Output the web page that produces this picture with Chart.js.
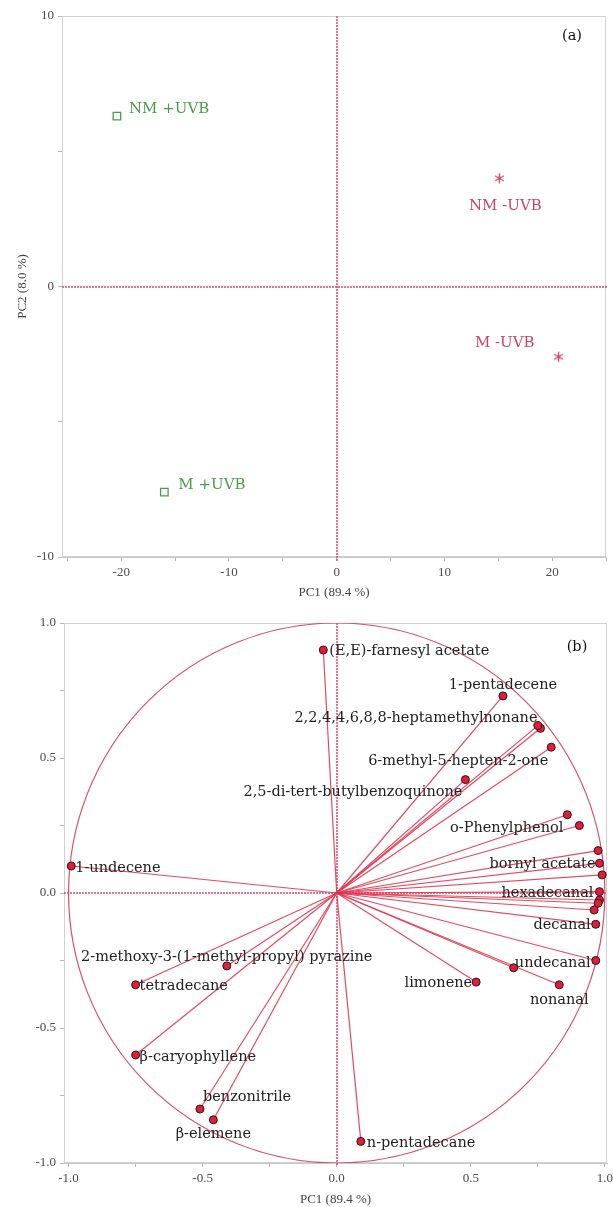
<!DOCTYPE html>
<html><head><meta charset="utf-8">
<script src="https://cdn.jsdelivr.net/npm/chart.js@4"></script>
<style>
html,body{margin:0;padding:0;background:#fff;}
#wrapA{position:absolute;left:0;top:0;width:613px;height:600px;}
#wrapB{position:absolute;left:0;top:600px;width:613px;height:607px;}
canvas{display:block;}
</style></head><body>
<div id="wrapA"><canvas id="cA" width="613" height="600"></canvas></div>
<div id="wrapB"><canvas id="cB" width="613" height="607"></canvas></div>
<script>
// ---------- DATA ----------
const scoreSamples = ['NM +UVB', 'NM -UVB', 'M -UVB', 'M +UVB'];
const scorePC1 = [-20.4, 15.1, 20.6, -16.0];
const scorePC2 = [6.3, 4.0, -2.6, -7.6];
const scoreGroup = ['+UVB', '-UVB', '-UVB', '+UVB'];
const scoreXTicks = [-25, -20, -15, -10, -5, 0, 5, 10, 15, 20, 25];
const scoreYTicks = [-10, -5, 0, 5, 10];

const loadingNames = [
  '(E,E)-farnesyl acetate', '1-pentadecene', '2,2,4,4,6,8,8-heptamethylnonane', '',
  '6-methyl-5-hepten-2-one', '2,5-di-tert-butylbenzoquinone', '', 'o-Phenylphenol',
  '', 'bornyl acetate', '', 'hexadecanal', '', '', '', 'decanal', 'undecanal', '',
  'limonene', 'nonanal', 'n-pentadecane', 'β-elemene', 'benzonitrile',
  'β-caryophyllene', 'tetradecane', '2-methoxy-3-(1-methyl-propyl) pyrazine', '1-undecene'
];
const loadingPC1 = [
  -0.05, 0.62, 0.76, 0.75,
  0.80, 0.48, 0.86, 0.905,
  0.975, 0.98, 0.99, 0.98, 0.98, 0.975, 0.96, 0.966, 0.966, 0.66,
  0.52, 0.83, 0.09, -0.46, -0.51,
  -0.75, -0.75, -0.41, -0.99
];
const loadingPC2 = [
  0.90, 0.73, 0.61, 0.62,
  0.54, 0.42, 0.29, 0.25,
  0.157, 0.11, 0.067, 0.005, -0.026, -0.038, -0.063, -0.116, -0.25, -0.277,
  -0.33, -0.34, -0.92, -0.84, -0.80,
  -0.60, -0.34, -0.27, 0.10
];
const loadingTicks = [-1, -0.75, -0.5, -0.25, 0, 0.25, 0.5, 0.75, 1];
const titlePC1 = 'PC1 (89.4 %)';
const titlePC2 = 'PC2 (8.0 %)';

// ---------- STYLE / LAYOUT ----------
const GREEN = '#4a9d4a';
const CRIMSON = '#c24866';
const VEC = 'rgba(222,55,80,0.9)';
const ZERO = 'rgba(226,70,110,0.75)';
const TICKFONT = {family: 'Liberation Serif', size: 13};
const TICKCOLOR = '#4a4a4a';

const scoreLabelPos = {
  'NM +UVB': {dx: 12, dy: -7, align: 'left'},
  'NM -UVB': {dx: 6, dy: 28, align: 'center'},
  'M -UVB': {dx: -24, dy: -14, align: 'right'},
  'M +UVB': {dx: 14, dy: -7, align: 'left'}
};
const loadingLabelPos = {
  '(E,E)-farnesyl acetate': {dx: 6, dy: 1, align: 'left'},
  '1-pentadecene': {dx: 0, dy: -11, align: 'center'},
  '2,2,4,4,6,8,8-heptamethylnonane': {dx: -3, dy: -10, align: 'right'},
  '6-methyl-5-hepten-2-one': {dx: -3, dy: 14, align: 'right'},
  '2,5-di-tert-butylbenzoquinone': {dx: -3, dy: 13, align: 'right'},
  'o-Phenylphenol': {dx: -16, dy: 3, align: 'right'},
  'bornyl acetate': {dx: -4, dy: 1, align: 'right'},
  'hexadecanal': {dx: -6, dy: 2, align: 'right'},
  'decanal': {dx: -5, dy: 1, align: 'right'},
  'undecanal': {dx: -5, dy: 3, align: 'right'},
  'limonene': {dx: -4, dy: 1, align: 'right'},
  'nonanal': {dx: 0, dy: 15, align: 'center'},
  'n-pentadecane': {dx: 6, dy: 2, align: 'left'},
  'β-elemene': {dx: 0, dy: 14, align: 'center'},
  'benzonitrile': {dx: 3, dy: -12, align: 'left'},
  'β-caryophyllene': {dx: 4, dy: 2, align: 'left'},
  'tetradecane': {dx: 4, dy: 1, align: 'left'},
  '2-methoxy-3-(1-methyl-propyl) pyrazine': {dx: 0, dy: -9, align: 'center'},
  '1-undecene': {dx: 4, dy: 2, align: 'left'}
};

function makeAsterisk(color) {
  const c = document.createElement('canvas');
  c.width = 13; c.height = 13;
  const g = c.getContext('2d');
  g.strokeStyle = color; g.lineWidth = 1.4; g.translate(6.5, 6.5);
  for (let i = 0; i < 3; i++) {
    const a = Math.PI / 2 + i * Math.PI / 3;
    g.beginPath();
    g.moveTo(Math.cos(a) * 5, Math.sin(a) * 5);
    g.lineTo(-Math.cos(a) * 5, -Math.sin(a) * 5);
    g.stroke();
  }
  return c;
}

function frameAndZero(chart) {
  const {ctx, chartArea: a, scales: {x, y}} = chart;
  ctx.save();
  ctx.setLineDash([]);
  ctx.strokeStyle = '#d0d0d0'; ctx.lineWidth = 1;
  ctx.strokeRect(a.left + 0.5, a.top + 0.5, a.right - a.left - 1, a.bottom - a.top - 1);
  const x0 = Math.round(x.getPixelForValue(0)), y0 = Math.round(y.getPixelForValue(0));
  ctx.fillStyle = ZERO;
  for (let py = a.top; py < a.bottom + 3; py += 3) ctx.fillRect(x0 - 1, py, 2, 2);
  for (let px = a.left; px < a.right; px += 3) ctx.fillRect(px, y0 - 1, 2, 2);
  ctx.restore();
}

function tag(chart, text, px, py) {
  const ctx = chart.ctx;
  ctx.save();
  ctx.font = '14.5px "DejaVu Serif"'; ctx.fillStyle = '#111';
  ctx.textAlign = 'center'; ctx.textBaseline = 'middle';
  ctx.fillText(text, px, py);
  ctx.restore();
}

function axisCfg(min, max, ticksArr, labelFn, fitFn, title, titlePad) {
  return {
    type: 'linear', min: min, max: max,
    afterBuildTicks: s => { s.ticks = ticksArr.map(v => ({value: v})); },
    ticks: {callback: labelFn, font: TICKFONT, color: TICKCOLOR, padding: 4, autoSkip: false, maxRotation: 0, minRotation: 0},
    grid: {drawOnChartArea: false, drawTicks: true, tickLength: 4, tickColor: '#b5b5b5'},
    border: {display: true, color: '#c8c8c8'},
    title: title ? {display: true, text: title, font: TICKFONT, color: '#444', padding: titlePad} : {display: false},
    afterFit: fitFn
  };
}

// ---------- CHART A : scores ----------
const plusIdx = scoreGroup.map((g, i) => g === '+UVB' ? i : -1).filter(i => i >= 0);
const minusIdx = scoreGroup.map((g, i) => g === '-UVB' ? i : -1).filter(i => i >= 0);

const pluginA = {
  id: 'scoreDecor',
  beforeDatasetsDraw(chart) { frameAndZero(chart); },
  afterDatasetsDraw(chart) {
    const {ctx, scales: {x, y}} = chart;
    ctx.save();
    ctx.font = '15px "DejaVu Serif"'; ctx.textBaseline = 'middle';
    scoreSamples.forEach((n, i) => {
      const p = scoreLabelPos[n];
      ctx.fillStyle = scoreGroup[i] === '+UVB' ? GREEN : CRIMSON;
      ctx.textAlign = p.align;
      ctx.fillText(n, x.getPixelForValue(scorePC1[i]) + p.dx, y.getPixelForValue(scorePC2[i]) + p.dy);
    });
    ctx.restore();
    tag(chart, '(a)', 572, 36);
  }
};

new Chart(document.getElementById('cA'), {
  type: 'scatter',
  data: {
    datasets: [
      {label: '+UVB', data: plusIdx.map(i => ({x: scorePC1[i], y: scorePC2[i]})),
       pointStyle: 'rect', pointRadius: 5.3, borderColor: GREEN, backgroundColor: 'rgba(255,255,255,0)', borderWidth: 1.3},
      {label: '-UVB', data: minusIdx.map(i => ({x: scorePC1[i], y: scorePC2[i]})),
       pointStyle: makeAsterisk(CRIMSON), pointRadius: 5, borderColor: CRIMSON, backgroundColor: CRIMSON}
    ]
  },
  options: {
    responsive: false, animation: false, devicePixelRatio: 1,
    layout: {padding: {top: 16, right: 7, left: 0, bottom: 0}},
    plugins: {legend: {display: false}, tooltip: {enabled: false}},
    scales: {
      x: axisCfg(-25.5, 25, scoreXTicks, v => (v % 10 === 0 ? String(v) : ''),
        s => { s.height = 43; s.paddingLeft = 0; s.paddingRight = 0; }, titlePC1, {top: 0, bottom: 0}),
      y: axisCfg(-10, 10, scoreYTicks, v => (v % 10 === 0 ? String(v) : ''),
        s => { s.width = 62; s.paddingTop = 0; s.paddingBottom = 0; }, titlePC2, {top: 15, bottom: 0})
    }
  },
  plugins: [pluginA]
});

// ---------- CHART B : loadings ----------
const pluginB = {
  id: 'loadingDecor',
  beforeDatasetsDraw(chart) {
    frameAndZero(chart);
    const {ctx, chartArea: a, scales: {x, y}} = chart;
    const cx = x.getPixelForValue(0), cy = y.getPixelForValue(0);
    ctx.save();
    ctx.beginPath(); ctx.rect(a.left, a.top, a.right - a.left, a.bottom - a.top); ctx.clip();
    ctx.strokeStyle = '#d4506a'; ctx.lineWidth = 1.2;
    ctx.beginPath();
    ctx.ellipse(cx, cy, x.getPixelForValue(1) - cx, cy - y.getPixelForValue(1), 0, 0, Math.PI * 2);
    ctx.stroke();
    ctx.strokeStyle = VEC; ctx.lineWidth = 1.2;
    loadingPC1.forEach((v, i) => {
      ctx.beginPath(); ctx.moveTo(cx, cy);
      ctx.lineTo(x.getPixelForValue(v), y.getPixelForValue(loadingPC2[i])); ctx.stroke();
    });
    ctx.restore();
  },
  afterDatasetsDraw(chart) {
    const {ctx, scales: {x, y}} = chart;
    ctx.save();
    ctx.font = '14.5px "DejaVu Serif"'; ctx.textBaseline = 'middle'; ctx.fillStyle = '#222';
    loadingNames.forEach((n, i) => {
      if (!n) return;
      const p = loadingLabelPos[n] || {dx: 5, dy: 0, align: 'left'};
      ctx.textAlign = p.align;
      ctx.fillText(n, x.getPixelForValue(loadingPC1[i]) + p.dx, y.getPixelForValue(loadingPC2[i]) + p.dy);
    });
    ctx.restore();
    tag(chart, '(b)', 577, 47);
  }
};

new Chart(document.getElementById('cB'), {
  type: 'scatter',
  data: {
    datasets: [
      {label: 'loadings', data: loadingPC1.map((v, i) => ({x: v, y: loadingPC2[i]})),
       pointStyle: 'circle', pointRadius: 4, backgroundColor: '#dc1f3c', borderColor: '#3a0c12', borderWidth: 1}
    ]
  },
  options: {
    responsive: false, animation: false, devicePixelRatio: 1,
    layout: {padding: {top: 23, right: 6, left: 0, bottom: 0}},
    plugins: {legend: {display: false}, tooltip: {enabled: false}},
    scales: {
      x: axisCfg(-1.017, 1.008, loadingTicks, v => (Math.abs(v * 2 - Math.round(v * 2)) < 1e-9 ? v.toFixed(1) : ''),
        s => { s.height = 44; s.paddingLeft = 0; s.paddingRight = 0; }, titlePC1, {top: 0, bottom: 0}),
      y: axisCfg(-1.0, 1.0, loadingTicks, v => (Math.abs(v * 2 - Math.round(v * 2)) < 1e-9 ? v.toFixed(1) : ''),
        s => { s.width = 64; s.paddingTop = 0; s.paddingBottom = 0; }, null, null)
    }
  },
  plugins: [pluginB]
});
</script>
</body></html>
